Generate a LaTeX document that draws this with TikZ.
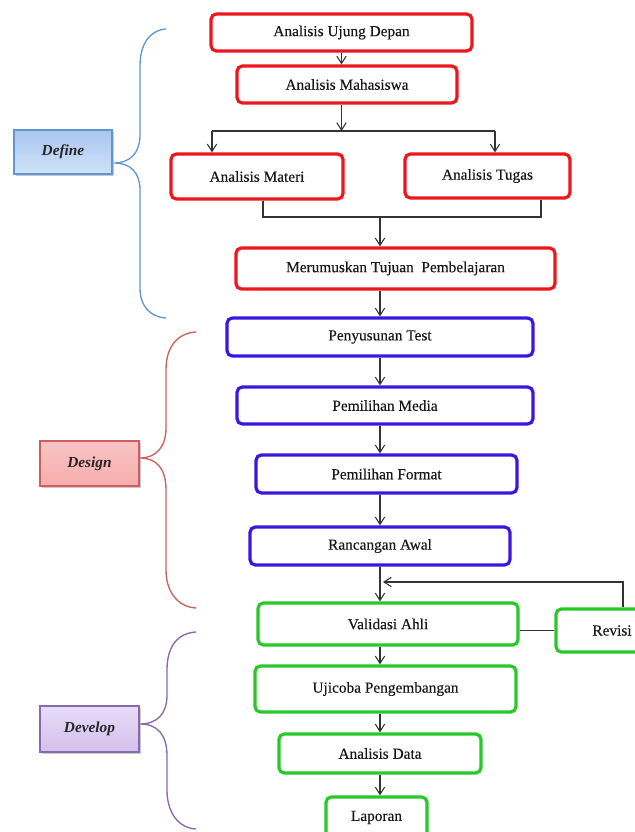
\documentclass[tikz,border=0pt]{standalone}
\usepackage{fontspec}
\setmainfont{Liberation Serif}
\newfontfamily\boxfont[FakeBold=0.35]{Liberation Serif}
\usetikzlibrary{arrows.meta,shadows,calc}
\definecolor{cred}{RGB}{236,22,28}
\definecolor{cblue}{RGB}{58,22,224}
\definecolor{cgreen}{RGB}{40,200,40}
\definecolor{bdef}{RGB}{100,150,205}
\definecolor{bdes}{RGB}{205,95,95}
\definecolor{bdev}{RGB}{135,105,175}
\newcommand\mybox[7]{\node[#1, minimum width={(#5-#3)*0.75pt}, minimum height={(#6-#4)*0.75pt}] (#2) at ({(#3+#5)/2},{(#4+#6)/2}) {#7};}
\tikzset{
  flow/.style={draw=#1, line width=2.4pt, rounded corners=4pt, fill=white, inner sep=0pt, text=black!90, font=\boxfont\fontsize{11.5}{13}\selectfont},
  arr/.style={draw=black!80, line width=0.8pt, -{Straight Barb[length=5.5pt,width=7pt]}},
  conn/.style={draw=black!80, line width=0.8pt},
  phase/.style={draw=#1, line width=1.2pt, inner sep=0pt, text=black!85,
    font=\fontsize{11.5}{13}\selectfont\bfseries\itshape,
    drop shadow={shadow xshift=1.5pt,shadow yshift=-1.5pt,opacity=0.35,fill=black!60}},
  brace/.style={draw=#1, line width=1pt},
}
\begin{document}
\begin{tikzpicture}[x=0.75pt,y=-0.75pt]
\useasboundingbox (0,0) rectangle (635,832);
\clip (0,0) rectangle (635,832);

% Define
\mybox{flow=cred}{aud}{211}{14}{472}{51}{Analisis Ujung Depan}
\mybox{flow=cred}{am}{237}{66}{457}{103}{Analisis Mahasiswa}
\mybox{flow=cred}{amat}{171}{154}{343}{199}{Analisis Materi}
\mybox{flow=cred}{atug}{405}{154}{570}{198}{Analisis Tugas}
\mybox{flow=cred}{mtp}{236}{248}{555}{289}{Merumuskan Tujuan~ Pembelajaran}
% Design
\mybox{flow=cblue}{pt}{227}{318}{533}{356}{Penyusunan Test}
\mybox{flow=cblue}{pm}{237}{387}{533}{424}{Pemilihan Media}
\mybox{flow=cblue}{pf}{256}{455}{517}{493}{Pemilihan Format}
\mybox{flow=cblue}{ra}{250}{527}{510}{565}{Rancangan Awal}
% Develop
\mybox{flow=cgreen}{va}{258}{603}{518}{645}{Validasi Ahli}
\mybox{flow=cgreen}{rev}{556}{609}{668}{652}{Revisi}
\mybox{flow=cgreen}{up}{255}{666}{516}{712}{Ujicoba Pengembangan}
\mybox{flow=cgreen}{ad}{279}{734}{481}{773}{Analisis Data}
\mybox{flow=cgreen}{lap}{326}{797}{427}{838}{Laporan}

% phase labels
\mybox{phase=bdef, top color={rgb,255:red,168;green,198;blue,238}, bottom color={rgb,255:red,208;green,226;blue,250}}{define}{14}{130}{112}{174}{Define}
\mybox{phase=bdes, top color={rgb,255:red,250;green,196;blue,196}, bottom color={rgb,255:red,246;green,172;blue,172}}{design}{40}{441}{139}{486}{Design}
\mybox{phase=bdev, top color={rgb,255:red,232;green,220;blue,248}, bottom color={rgb,255:red,212;green,192;blue,236}}{develop}{40}{706}{139}{752}{Develop}

% braces
\draw[brace=bdef] (166,29) .. controls (150,30) and (140,44) .. (140,66) -- (140,135)
  .. controls (140,153) and (130,163) .. (114,163)
  .. controls (130,163) and (140,172) .. (140,190) -- (140,288)
  .. controls (140,306) and (150,317) .. (166,318);
\draw[brace=bdes] (196,332) .. controls (178,333) and (166,346) .. (166,370) -- (166,428)
  .. controls (166,447) and (156,458) .. (140,458)
  .. controls (156,458) and (166,468) .. (166,490) -- (166,570)
  .. controls (166,592) and (178,607) .. (196,608);
\draw[brace=bdev] (196,632) .. controls (178,633) and (167,646) .. (167,670) -- (167,695)
  .. controls (167,714) and (157,724) .. (140,724)
  .. controls (157,724) and (167,734) .. (167,756) -- (167,790)
  .. controls (167,812) and (178,828) .. (196,829);

% connectors
\coordinate (bl) at (212,131);
\coordinate (br) at (495,131);
\coordinate (ml) at (263,217);
\coordinate (mr) at (541,217);
\coordinate (mx) at (380,217);
\coordinate (fb) at (383,582);
\draw[arr] (aud.south) -- (aud.south |- am.north);
\draw[arr] (aud.south |- am.south) -- (aud.south |- bl);
\draw[conn] (bl) -- (br);
\draw[arr] (bl) -- (bl |- amat.north);
\draw[arr] (br) -- (br |- atug.north);
\draw[conn] (ml |- amat.south) -- (ml) -- (mr) -- (mr |- atug.south);
\draw[arr] (mx) -- (mx |- mtp.north);
\draw[arr] (mx |- mtp.south) -- (mx |- pt.north);
\draw[arr] (mx |- pt.south) -- (mx |- pm.north);
\draw[arr] (mx |- pm.south) -- (mx |- pf.north);
\draw[arr] (mx |- pf.south) -- (mx |- ra.north);
\draw[arr] (mx |- ra.south) -- (mx |- va.north);
\draw[arr] (mx |- va.south) -- (mx |- up.north);
\draw[arr] (mx |- up.south) -- (mx |- ad.north);
\draw[arr] (mx |- ad.south) -- (mx |- lap.north);
\draw[arr] ([xshift=8.25pt]rev.north) |- (fb);
\draw[conn] (rev.west) -- (rev.west -| va.east);
\end{tikzpicture}
\end{document}
